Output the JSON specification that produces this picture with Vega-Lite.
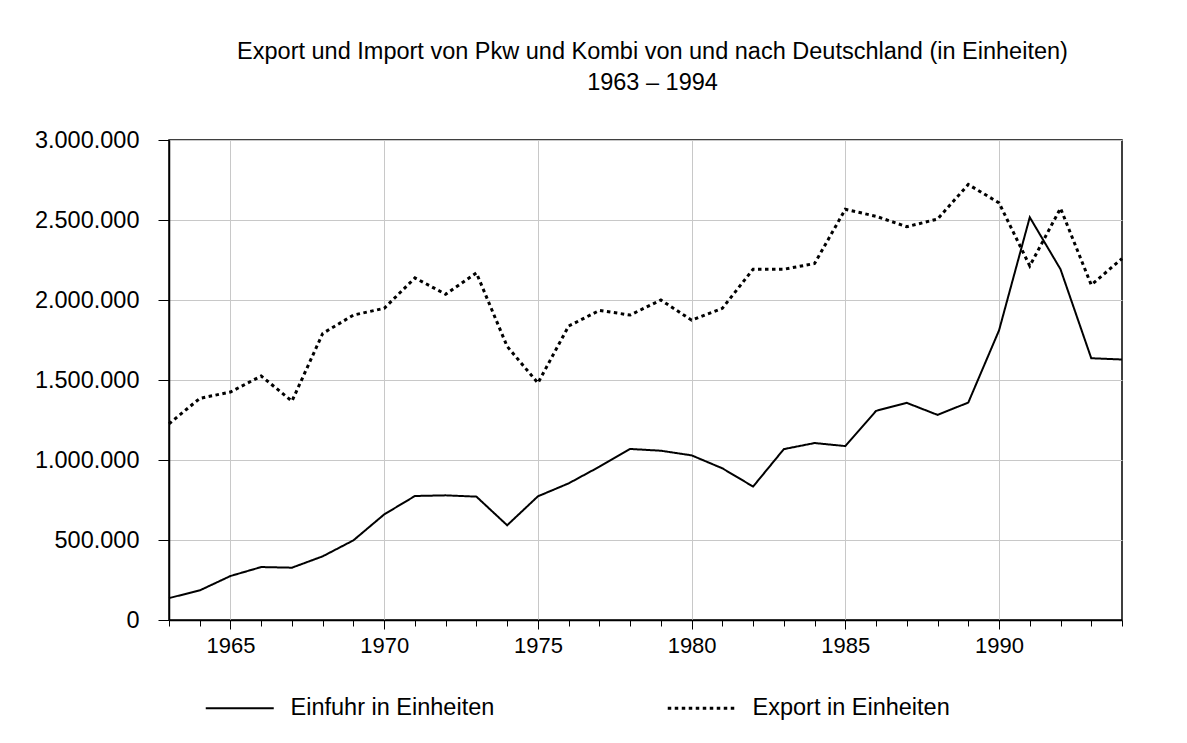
{
  "$schema": "https://vega.github.io/schema/vega-lite/v6.json",
  "width": 953,
  "height": 480,
  "autosize": {"type": "none"},
  "padding": {"left": 169, "top": 140, "right": 65, "bottom": 123},
  "background": "white",
  "config": {
    "locale": {"number": {"decimal": ",", "thousands": ".", "grouping": [3], "currency": ["", " €"]}},
    "font": "Liberation Sans",
    "view": {"stroke": "black", "strokeWidth": 1.5},
    "axis": {
      "domainColor": "black",
      "domainWidth": 1.5,
      "tickColor": "black",
      "tickWidth": 1,
      "labelColor": "black",
      "labelFontSize": 22,
      "labelFont": "Liberation Sans",
      "gridColor": "#c8c8c8",
      "gridWidth": 1
    }
  },
  "title": {
    "text": ["Export und Import von Pkw und Kombi von und nach Deutschland (in Einheiten)", "1963 – 1994"],
    "fontSize": 23.5,
    "fontWeight": "normal",
    "font": "Liberation Sans",
    "color": "black",
    "anchor": "middle",
    "frame": "group",
    "lineHeight": 31,
    "offset": 34,
    "dx": 7
  },
  "data": {
    "values": [
      {"year": 1963, "series": "Einfuhr in Einheiten", "value": 137000},
      {"year": 1964, "series": "Einfuhr in Einheiten", "value": 185000},
      {"year": 1965, "series": "Einfuhr in Einheiten", "value": 275000},
      {"year": 1966, "series": "Einfuhr in Einheiten", "value": 331000},
      {"year": 1967, "series": "Einfuhr in Einheiten", "value": 327000},
      {"year": 1968, "series": "Einfuhr in Einheiten", "value": 398000},
      {"year": 1969, "series": "Einfuhr in Einheiten", "value": 498000},
      {"year": 1970, "series": "Einfuhr in Einheiten", "value": 660000},
      {"year": 1971, "series": "Einfuhr in Einheiten", "value": 775000},
      {"year": 1972, "series": "Einfuhr in Einheiten", "value": 779000},
      {"year": 1973, "series": "Einfuhr in Einheiten", "value": 771000},
      {"year": 1974, "series": "Einfuhr in Einheiten", "value": 592000},
      {"year": 1975, "series": "Einfuhr in Einheiten", "value": 773000},
      {"year": 1976, "series": "Einfuhr in Einheiten", "value": 854000},
      {"year": 1977, "series": "Einfuhr in Einheiten", "value": 958000},
      {"year": 1978, "series": "Einfuhr in Einheiten", "value": 1069000},
      {"year": 1979, "series": "Einfuhr in Einheiten", "value": 1058000},
      {"year": 1980, "series": "Einfuhr in Einheiten", "value": 1029000},
      {"year": 1981, "series": "Einfuhr in Einheiten", "value": 948000},
      {"year": 1982, "series": "Einfuhr in Einheiten", "value": 834000},
      {"year": 1983, "series": "Einfuhr in Einheiten", "value": 1068000},
      {"year": 1984, "series": "Einfuhr in Einheiten", "value": 1106000},
      {"year": 1985, "series": "Einfuhr in Einheiten", "value": 1087000},
      {"year": 1986, "series": "Einfuhr in Einheiten", "value": 1307000},
      {"year": 1987, "series": "Einfuhr in Einheiten", "value": 1357000},
      {"year": 1988, "series": "Einfuhr in Einheiten", "value": 1282000},
      {"year": 1989, "series": "Einfuhr in Einheiten", "value": 1359000},
      {"year": 1990, "series": "Einfuhr in Einheiten", "value": 1810000},
      {"year": 1991, "series": "Einfuhr in Einheiten", "value": 2517000},
      {"year": 1992, "series": "Einfuhr in Einheiten", "value": 2192000},
      {"year": 1993, "series": "Einfuhr in Einheiten", "value": 1636000},
      {"year": 1994, "series": "Einfuhr in Einheiten", "value": 1628000},
      {"year": 1963, "series": "Export in Einheiten", "value": 1226000},
      {"year": 1964, "series": "Export in Einheiten", "value": 1385000},
      {"year": 1965, "series": "Export in Einheiten", "value": 1425000},
      {"year": 1966, "series": "Export in Einheiten", "value": 1525000},
      {"year": 1967, "series": "Export in Einheiten", "value": 1368000},
      {"year": 1968, "series": "Export in Einheiten", "value": 1791000},
      {"year": 1969, "series": "Export in Einheiten", "value": 1906000},
      {"year": 1970, "series": "Export in Einheiten", "value": 1948000},
      {"year": 1971, "series": "Export in Einheiten", "value": 2138000},
      {"year": 1972, "series": "Export in Einheiten", "value": 2036000},
      {"year": 1973, "series": "Export in Einheiten", "value": 2169000},
      {"year": 1974, "series": "Export in Einheiten", "value": 1710000},
      {"year": 1975, "series": "Export in Einheiten", "value": 1481000},
      {"year": 1976, "series": "Export in Einheiten", "value": 1837000},
      {"year": 1977, "series": "Export in Einheiten", "value": 1935000},
      {"year": 1978, "series": "Export in Einheiten", "value": 1906000},
      {"year": 1979, "series": "Export in Einheiten", "value": 2000000},
      {"year": 1980, "series": "Export in Einheiten", "value": 1874000},
      {"year": 1981, "series": "Export in Einheiten", "value": 1948000},
      {"year": 1982, "series": "Export in Einheiten", "value": 2192000},
      {"year": 1983, "series": "Export in Einheiten", "value": 2192000},
      {"year": 1984, "series": "Export in Einheiten", "value": 2228000},
      {"year": 1985, "series": "Export in Einheiten", "value": 2567000},
      {"year": 1986, "series": "Export in Einheiten", "value": 2523000},
      {"year": 1987, "series": "Export in Einheiten", "value": 2458000},
      {"year": 1988, "series": "Export in Einheiten", "value": 2506000},
      {"year": 1989, "series": "Export in Einheiten", "value": 2722000},
      {"year": 1990, "series": "Export in Einheiten", "value": 2607000},
      {"year": 1991, "series": "Export in Einheiten", "value": 2213000},
      {"year": 1992, "series": "Export in Einheiten", "value": 2573000},
      {"year": 1993, "series": "Export in Einheiten", "value": 2094000},
      {"year": 1994, "series": "Export in Einheiten", "value": 2259000}
    ]
  },
  "mark": {"type": "line", "color": "black", "strokeCap": "butt"},
  "encoding": {
    "x": {
      "field": "year",
      "type": "quantitative",
      "scale": {"domain": [1963, 1994], "nice": false, "zero": false},
      "axis": {
        "title": null,
        "values": [1963,1964,1965,1966,1967,1968,1969,1970,1971,1972,1973,1974,1975,1976,1977,1978,1979,1980,1981,1982,1983,1984,1985,1986,1987,1988,1989,1990,1991,1992,1993,1994],
        "format": "d",
        "labelExpr": "datum.value % 5 === 0 ? datum.label : ''",
        "labelFlush": false,
        "labelOverlap": false,
        "gridOpacity": {"condition": {"test": "datum.value % 5 === 0", "value": 1}, "value": 0},
        "tickSize": {"condition": {"test": "datum.value % 5 === 0", "value": 9}, "value": 6},
        "labelPadding": 6
      }
    },
    "y": {
      "field": "value",
      "type": "quantitative",
      "scale": {"domain": [0, 3000000], "nice": false},
      "axis": {
        "title": null,
        "values": [0, 500000, 1000000, 1500000, 2000000, 2500000, 3000000],
        "format": ",d",
        "labelFontSize": 23.5,
        "tickSize": 11,
        "labelPadding": 19
      }
    },
    "strokeDash": {
      "field": "series",
      "type": "nominal",
      "scale": {"domain": ["Einfuhr in Einheiten", "Export in Einheiten"], "range": [[1, 0], [3.5, 3.5]]},
      "legend": {
        "title": null,
        "orient": "none",
        "legendX": 59,
        "legendY": 556,
        "direction": "horizontal",
        "symbolType": "stroke",
        "symbolSize": 4624,
        "symbolStrokeColor": "black",
        "symbolStrokeWidth": 2.5,
        "labelFontSize": 23.5,
        "labelFont": "Liberation Sans",
        "labelColor": "black",
        "labelOffset": 39,
        "columnPadding": 166,
        "labelLimit": 400,
        "encode": {"symbols": {"update": {"strokeWidth": {"signal": "datum.value === 'Export in Einheiten' ? 3 : 2"}}}}
      }
    },
    "strokeWidth": {"condition": {"test": "datum.series === 'Export in Einheiten'", "value": 3}, "value": 2}
  }
}
